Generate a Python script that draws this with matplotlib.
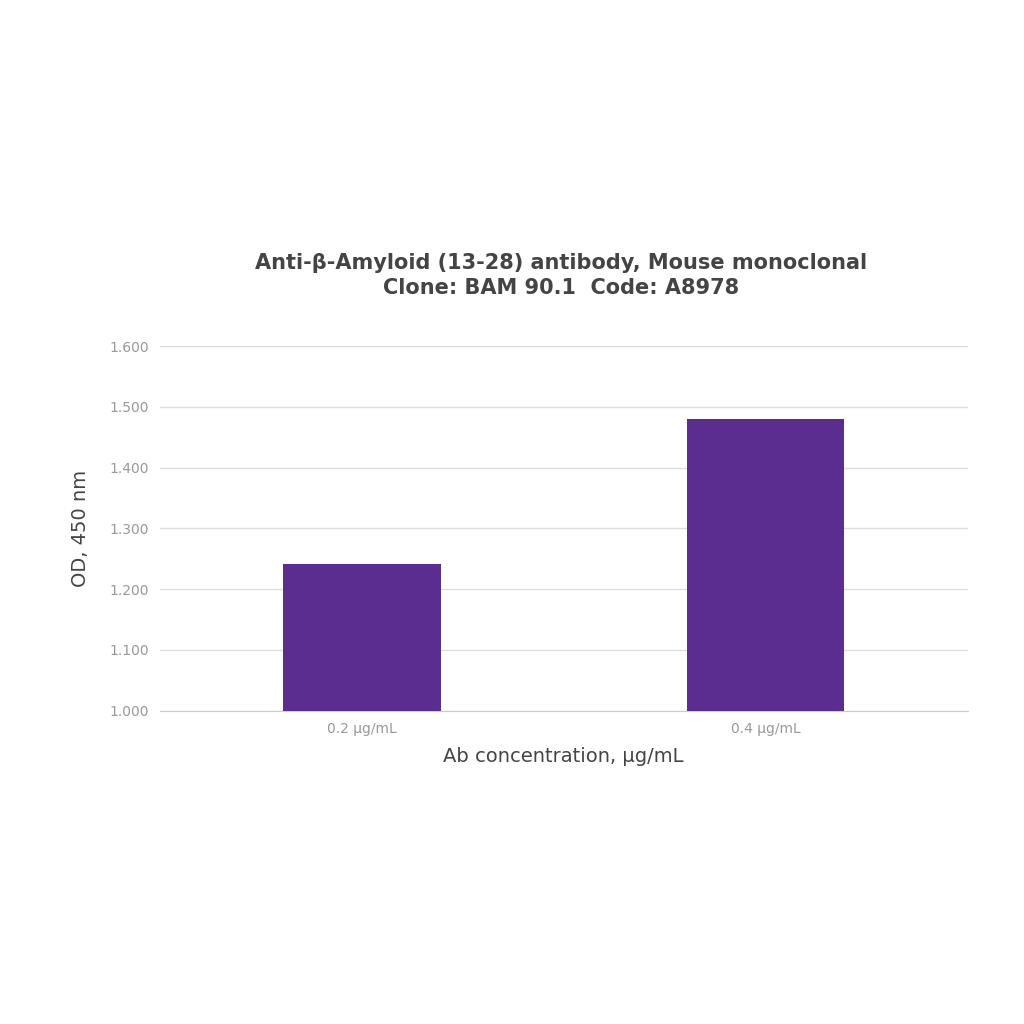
import matplotlib
matplotlib.use("Agg")
import matplotlib.pyplot as plt

categories = ["0.2 µg/mL", "0.4 µg/mL"]
values = [1.242, 1.480]
yticks = [1.0, 1.1, 1.2, 1.3, 1.4, 1.5, 1.6]
ytick_labels = ["1.000", "1.100", "1.200", "1.300", "1.400", "1.500", "1.600"]

fig = plt.figure(figsize=(10.24, 10.24), dpi=100)
ax = fig.add_axes([0.156, 0.306, 0.789, 0.356])
x = list(range(len(categories)))
ax.bar(x, [v - 1.0 for v in values], bottom=1.0, width=0.39, color="#5b2d91", zorder=3)
ax.set_xlim(-0.5, 1.5)
ax.set_ylim(1.0, 1.6)
ax.set_yticks(yticks)
ax.set_yticklabels(ytick_labels, color="#999999", fontsize=10)
ax.set_xticks(x)
ax.set_xticklabels(categories, color="#999999", fontsize=10)
ax.tick_params(length=0, pad=8)
ax.grid(axis="y", color="#dddddd", linewidth=1, zorder=0)
for s in ["top", "right", "left"]:
    ax.spines[s].set_visible(False)
ax.spines["bottom"].set_color("#cccccc")
ax.set_ylabel("OD, 450 nm", fontsize=14, color="#444444", labelpad=14)
ax.set_xlabel("Ab concentration, µg/mL", fontsize=14, color="#444444", labelpad=8)
fig.text(0.548, 0.731, "Anti-β-Amyloid (13-28) antibody, Mouse monoclonal\nClone: BAM 90.1  Code: A8978",
         ha="center", va="center", fontsize=15, fontweight="semibold", color="#444444", linespacing=1.3)
fig.savefig("out.png", dpi=100, facecolor="white")
